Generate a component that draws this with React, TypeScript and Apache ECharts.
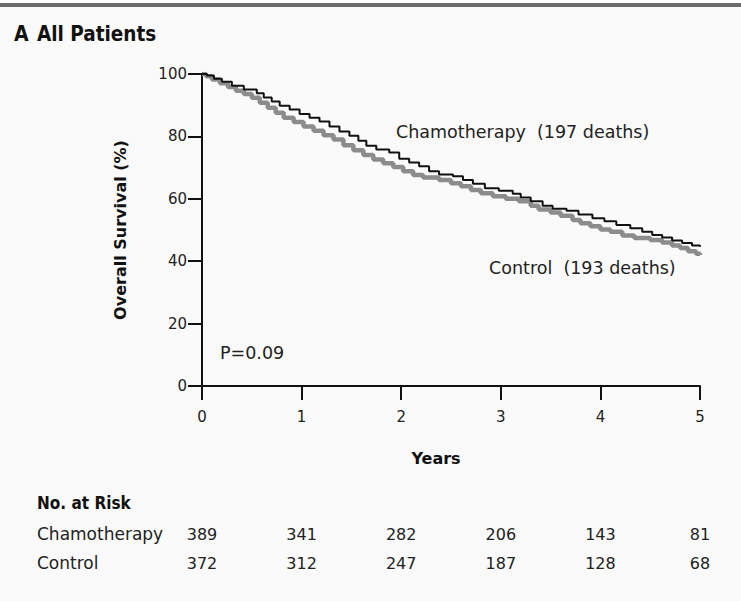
import React, { useEffect, useRef } from "react";
import * as echarts from "echarts";

// Kaplan-Meier estimates: time (years) at which each step begins, survival (%)
const chemoTimes = [0, 0.05, 0.12, 0.2, 0.3, 0.42, 0.55, 0.62, 0.7, 0.78, 0.88, 0.98, 1.08, 1.18, 1.28, 1.38, 1.48, 1.57, 1.65, 1.75, 1.88, 1.98, 2.08, 2.18, 2.28, 2.38, 2.52, 2.62, 2.72, 2.84, 2.98, 3.12, 3.2, 3.3, 3.42, 3.52, 3.66, 3.78, 3.92, 4.04, 4.16, 4.3, 4.42, 4.52, 4.62, 4.72, 4.82, 4.92, 5.0];
const chemoSurvival = [100, 99.5, 98.5, 97.5, 96.2, 95.0, 93.8, 92.5, 91.2, 89.8, 88.6, 87.2, 86.0, 84.8, 83.2, 81.6, 80.2, 78.6, 77.0, 75.8, 74.8, 72.8, 71.6, 70.4, 68.8, 67.8, 67.2, 66.0, 64.8, 63.4, 62.6, 61.6, 60.4, 59.2, 57.8, 56.8, 56.2, 55.0, 53.8, 52.8, 51.6, 50.6, 49.4, 48.4, 47.6, 46.6, 45.8, 45.0, 44.6];

const controlTimes = [0, 0.04, 0.1, 0.18, 0.26, 0.34, 0.42, 0.5, 0.58, 0.66, 0.74, 0.82, 0.92, 1.02, 1.12, 1.22, 1.32, 1.42, 1.52, 1.62, 1.72, 1.82, 1.92, 2.02, 2.12, 2.22, 2.38, 2.5, 2.6, 2.7, 2.8, 2.92, 3.05, 3.18, 3.3, 3.38, 3.5, 3.6, 3.72, 3.8, 3.9, 4.0, 4.1, 4.22, 4.34, 4.5, 4.62, 4.72, 4.8, 4.88, 4.96, 5.0];
const controlSurvival = [100, 99.3, 98.2, 97.0, 95.8, 94.6, 93.6, 92.4, 90.8, 89.2, 87.6, 86.0, 84.6, 83.2, 81.8, 80.4, 79.0, 77.2, 75.6, 74.0, 72.6, 71.4, 70.2, 68.8, 67.6, 66.8, 66.0, 65.0, 64.0, 62.8, 61.8, 60.8, 60.0, 59.2, 57.8, 56.6, 55.6, 54.6, 53.2, 52.2, 51.2, 50.2, 49.4, 48.2, 47.4, 46.8, 46.0, 45.0, 44.2, 43.2, 42.4, 42.0];

// Number-at-risk table
const riskYears = [0, 1, 2, 3, 4, 5];
const riskChemo = [389, 341, 282, 206, 143, 81];
const riskControl = [372, 312, 247, 187, 128, 68];
const groupNames = ["Chamotherapy", "Control"];

const FONT = '"DejaVu Sans", sans-serif';
const FONT_C = '"DejaVu Sans Condensed", "DejaVu Sans", sans-serif';

export default function App() {
  const ref = useRef<HTMLDivElement>(null);

  useEffect(() => {
    if (!ref.current) return;
    const chart = echarts.init(ref.current, null, { renderer: "svg" });

    const chemoData = chemoTimes.map((t, i) => [t, chemoSurvival[i]]);
    const controlData = controlTimes.map((t, i) => [t, controlSurvival[i]]);

    chart.setOption({
      animation: false,
      backgroundColor: "#fafafa",
      grid: { left: 202, right: 41, top: 74, bottom: 215 },
      xAxis: {
        type: "value",
        min: 0,
        max: 5,
        interval: 1,
        axisLine: { show: true, lineStyle: { color: "#111", width: 2 } },
        axisTick: { show: true, length: 14, lineStyle: { color: "#111", width: 2 } },
        axisLabel: { margin: 23, color: "#222", fontSize: 15, fontFamily: FONT },
        splitLine: { show: false },
      },
      yAxis: {
        type: "value",
        min: 0,
        max: 100,
        interval: 20,
        axisLine: { show: true, lineStyle: { color: "#111", width: 2 } },
        axisTick: { show: true, length: 14, lineStyle: { color: "#111", width: 2 } },
        axisLabel: { margin: 15, color: "#222", fontSize: 15, fontFamily: FONT },
        splitLine: { show: false },
      },
      series: [
        {
          name: "Control",
          type: "line",
          step: "end",
          showSymbol: false,
          data: controlData,
          lineStyle: { color: "#8c8c8c", width: 4.5 },
          z: 2,
        },
        {
          name: "Chamotherapy",
          type: "line",
          step: "end",
          showSymbol: false,
          data: chemoData,
          lineStyle: { color: "#111", width: 2 },
          z: 3,
        },
      ],
    });

    const px = (yr: number) => chart.convertToPixel({ xAxisIndex: 0 }, yr) as number;

    const riskTexts: any[] = [];
    [riskChemo, riskControl].forEach((row, r) => {
      row.forEach((n, i) => {
        riskTexts.push({
          type: "text",
          x: px(riskYears[i]),
          y: r === 0 ? 534 : 563,
          style: {
            text: String(n),
            font: `16px ${FONT}`,
            fill: "#222",
            textAlign: "center",
            textVerticalAlign: "middle",
          },
        });
      });
    });

    chart.setOption({
      graphic: [
        { type: "rect", shape: { x: 0, y: 3, width: 741, height: 4 }, style: { fill: "#6b6b6b" } },
        { type: "rect", shape: { x: 0, y: 0, width: 741, height: 3 }, style: { fill: "#ffffff" } },
        {
          type: "text", x: 14, y: 34,
          style: { text: "A", font: `bold 21px ${FONT_C}`, fill: "#111", textVerticalAlign: "middle" },
        },
        {
          type: "text", x: 37, y: 34,
          style: { text: "All Patients", font: `bold 20.5px ${FONT_C}`, fill: "#111", textVerticalAlign: "middle" },
        },
        {
          type: "text", x: 120, y: 230, rotation: Math.PI / 2,
          style: { text: "Overall Survival (%)", font: `bold 16px ${FONT}`, fill: "#111", textAlign: "center", textVerticalAlign: "middle" },
        },
        {
          type: "text", x: 396, y: 132,
          style: { text: "Chamotherapy  (197 deaths)", font: `17.5px ${FONT}`, fill: "#222", textVerticalAlign: "middle" },
        },
        {
          type: "text", x: 489, y: 268,
          style: { text: "Control  (193 deaths)", font: `17.5px ${FONT}`, fill: "#222", textVerticalAlign: "middle" },
        },
        {
          type: "text", x: 220, y: 353,
          style: { text: "P=0.09", font: `17.5px ${FONT}`, fill: "#222", textVerticalAlign: "middle" },
        },
        {
          type: "text", x: 436, y: 458,
          style: { text: "Years", font: `bold 16px ${FONT}`, fill: "#111", textAlign: "center", textVerticalAlign: "middle" },
        },
        {
          type: "text", x: 37, y: 503,
          style: { text: "No. at Risk", font: `bold 17px ${FONT_C}`, fill: "#111", textVerticalAlign: "middle" },
        },
        {
          type: "text", x: 37, y: 534,
          style: { text: groupNames[0], font: `17px ${FONT}`, fill: "#222", textVerticalAlign: "middle" },
        },
        {
          type: "text", x: 37, y: 563,
          style: { text: groupNames[1], font: `17px ${FONT}`, fill: "#222", textVerticalAlign: "middle" },
        },
        ...riskTexts,
      ],
    });

    return () => chart.dispose();
  }, []);

  return (
    <div
      ref={ref}
      style={{ position: "absolute", left: 0, top: 0, width: 741, height: 601 }}
    />
  );
}
